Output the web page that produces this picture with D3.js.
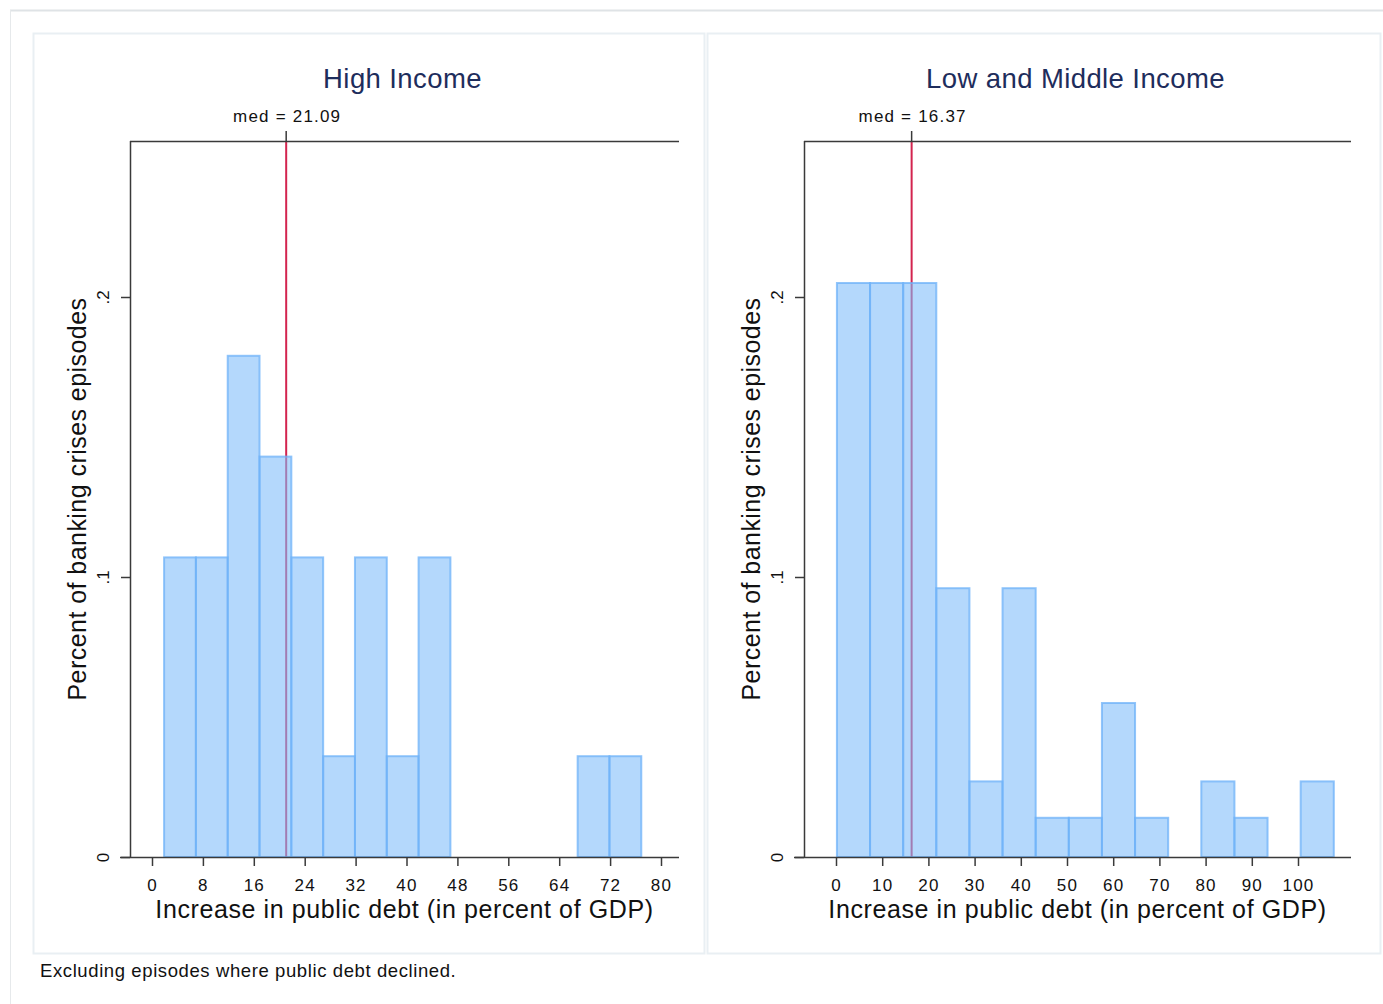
<!DOCTYPE html>
<html>
<head>
<meta charset="utf-8">
<script src="https://cdn.jsdelivr.net/npm/d3@7/dist/d3.min.js"></script>
<style>
  html, body { margin: 0; padding: 0; background: #fff; }
  svg { display: block; font-family: "Liberation Sans", Arial, sans-serif; }
</style>
</head>
<body>
<svg id="chart" width="1383" height="1004"></svg>
<script>
// Histogram of debt increases after banking crises, by income group
const panelTitles = ["High Income", "Low and Middle Income"];

// High income: bin start, bin width, fraction of episodes per bin
const hiStart = 1.9;
const hiWidth = 5.0;
const hiFrac = [0.107, 0.107, 0.179, 0.143, 0.107, 0.036, 0.107, 0.036, 0.107, 0, 0, 0, 0, 0.036, 0.036];
const hiMedian = 21.09;
const hiTicks = [0, 8, 16, 24, 32, 40, 48, 56, 64, 72, 80];

// Low and middle income
const loStart = 0.2;
const loWidth = 7.17;
const loFrac = [0.205, 0.205, 0.205, 0.096, 0.027, 0.096, 0.014, 0.014, 0.055, 0.014, 0, 0.027, 0.014, 0, 0.027];
const loMedian = 16.37;
const loTicks = [0, 10, 20, 30, 40, 50, 60, 70, 80, 90, 100];

const yTicks = [0, 0.1, 0.2];
const yTickLabels = ["0", ".1", ".2"];
const xTitle = "Increase in public debt (in percent of GDP)";
const yTitle = "Percent of banking crises episodes";
const note = "Excluding episodes where public debt declined.";

const svg = d3.select("#chart");
const titleColor = "#1e2d5c";
const axisColor = "#3a3a3a";
const textColor = "#111";

// outer frame edges
svg.append("line").attr("x1", 10).attr("x2", 1383).attr("y1", 10.5).attr("y2", 10.5)
  .attr("stroke", "#dfe3e6").attr("stroke-width", 2);
svg.append("line").attr("x1", 10.5).attr("x2", 10.5).attr("y1", 10).attr("y2", 1004)
  .attr("stroke", "#e6e9eb").attr("stroke-width", 1);

const panels = [
  { title: panelTitles[0], start: hiStart, width: hiWidth, frac: hiFrac, median: hiMedian,
    ticks: hiTicks, box: [33, 704], plot: [130, 679], dom: [0, 80], rng: [152, 661] },
  { title: panelTitles[1], start: loStart, width: loWidth, frac: loFrac, median: loMedian,
    ticks: loTicks, box: [707, 1380], plot: [804, 1351], dom: [0, 100], rng: [836, 1298] }
];

const plotTop = 141, plotBottom = 857;
const y = d3.scaleLinear().domain([0, 0.2]).range([plotBottom, 297]);

panels.forEach(p => {
  const g = svg.append("g");
  // panel background box
  g.append("rect").attr("x", p.box[0] + 0.5).attr("y", 33.5)
    .attr("width", p.box[1] - p.box[0]).attr("height", 920)
    .attr("fill", "#fff").attr("stroke", "#e9eff3").attr("stroke-width", 2);

  const x = d3.scaleLinear().domain(p.dom).range(p.rng);
  const cx = (p.plot[0] + p.plot[1]) / 2;

  // title
  g.append("text").attr("x", cx - 2).attr("y", 88).attr("text-anchor", "middle")
    .attr("font-size", 27.5).attr("letter-spacing", 0.4)
    .attr("fill", titleColor).text(p.title);

  // median line (under the bars)
  g.append("line").attr("x1", x(p.median)).attr("x2", x(p.median))
    .attr("y1", plotTop).attr("y2", plotBottom)
    .attr("stroke", "#d3244f").attr("stroke-width", 2);

  // bars
  const bins = p.frac.map((f, i) => ({ x0: p.start + i * p.width, x1: p.start + (i + 1) * p.width, f }));
  g.selectAll("rect.bar").data(bins.filter(b => b.f > 0)).join("rect")
    .attr("class", "bar")
    .attr("x", d => x(d.x0))
    .attr("width", d => x(d.x1) - x(d.x0))
    .attr("y", d => y(d.f))
    .attr("height", d => y(0) - y(d.f))
    .attr("fill", "rgba(125,187,250,0.58)")
    .attr("stroke", "rgba(110,178,248,0.75)")
    .attr("stroke-width", 2);

  // top axis with the median tick and label
  g.append("line").attr("x1", p.plot[0]).attr("x2", p.plot[1]).attr("y1", plotTop + 0.5).attr("y2", plotTop + 0.5)
    .attr("stroke", axisColor).attr("stroke-width", 1.5);
  g.append("line").attr("x1", x(p.median)).attr("x2", x(p.median)).attr("y1", plotTop - 10).attr("y2", plotTop)
    .attr("stroke", axisColor).attr("stroke-width", 1.5);
  g.append("text").attr("x", x(p.median) + 1).attr("y", 122).attr("text-anchor", "middle")
    .attr("font-size", 17).attr("letter-spacing", 1.2)
    .attr("fill", textColor).text("med = " + p.median.toFixed(2));

  // bottom axis
  const xAxis = d3.axisBottom(x).tickValues(p.ticks).tickSize(9).tickPadding(13).tickFormat(d3.format("d"));
  const xg = g.append("g").attr("transform", `translate(0,${plotBottom})`).call(xAxis);
  xg.select(".domain").remove();
  xg.append("line").attr("x1", p.plot[0] - 10).attr("x2", p.plot[1]).attr("y1", 0.5).attr("y2", 0.5)
    .attr("stroke", axisColor).attr("stroke-width", 1.5);
  xg.selectAll(".tick line").attr("stroke", axisColor).attr("stroke-width", 1.5);
  xg.selectAll(".tick text").attr("font-size", 17).attr("letter-spacing", 1.2)
    .attr("fill", textColor)
    .attr("font-family", "Liberation Sans, Arial, sans-serif");

  // left axis
  const yAxis = d3.axisLeft(y).tickValues(yTicks).tickSize(9).tickFormat((d, i) => yTickLabels[i]);
  const yg = g.append("g").attr("transform", `translate(${p.plot[0]},0)`).call(yAxis);
  yg.select(".domain").remove();
  yg.append("line").attr("x1", 0.5).attr("x2", 0.5).attr("y1", plotTop).attr("y2", plotBottom)
    .attr("stroke", axisColor).attr("stroke-width", 1.5);
  yg.selectAll(".tick line").attr("stroke", axisColor).attr("stroke-width", 1.5);
  yg.selectAll(".tick text")
    .attr("x", null).attr("dy", null)
    .attr("text-anchor", "middle")
    .attr("transform", "translate(-21,0) rotate(-90)")
    .attr("y", 0)
    .attr("font-size", 17).attr("fill", textColor)
    .attr("font-family", "Liberation Sans, Arial, sans-serif");

  // axis titles
  g.append("text").attr("x", cx).attr("y", 918).attr("text-anchor", "middle")
    .attr("font-size", 25).attr("letter-spacing", 0.6)
    .attr("fill", textColor).text(xTitle);
  g.append("text").attr("transform", `translate(${p.plot[0] - 44},${(plotTop + plotBottom) / 2}) rotate(-90)`)
    .attr("text-anchor", "middle").attr("font-size", 25).attr("letter-spacing", 0.45)
    .attr("fill", textColor).text(yTitle);
});

svg.append("text").attr("x", 40).attr("y", 977).attr("font-size", 18.5).attr("letter-spacing", 0.6)
  .attr("fill", textColor).text(note);
</script>
</body>
</html>
